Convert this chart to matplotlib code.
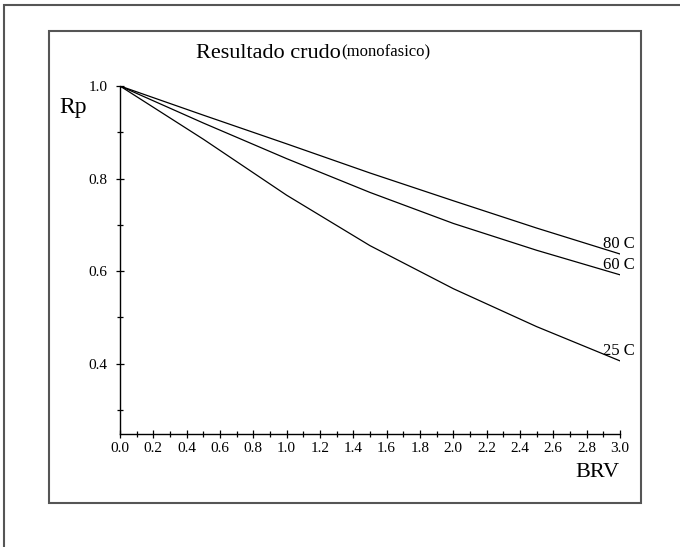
import numpy as np
from matplotlib import pyplot as plt
from matplotlib.patches import Rectangle
from matplotlib.ticker import MultipleLocator

plt.rcParams['font.family'] = ['Liberation Serif', 'DejaVu Serif']

brv = [0.0, 0.5, 1.0, 1.5, 2.0, 2.5, 3.0]
rp_80 = [1.0, 0.937, 0.875, 0.812, 0.752, 0.693, 0.637]
rp_60 = [1.0, 0.920, 0.843, 0.770, 0.703, 0.645, 0.592]
rp_25 = [1.0, 0.885, 0.764, 0.655, 0.562, 0.480, 0.406]
curve_labels = ['80 C', '60 C', '25 C']

W, H = 680, 547


def fx(px):
    return px / W


def fy(py):
    return 1 - py / H


def main():
    fig = plt.figure(figsize=(W / 100, H / 100), dpi=100)

    # frames drawn in pixel coordinates of the figure
    fig.add_artist(Rectangle((fx(4), fy(560)), fx(700), fy(5) - fy(560),
                             transform=fig.transFigure, fill=False,
                             edgecolor='#555555', linewidth=1.5))
    fig.add_artist(Rectangle((fx(49), fy(503)), fx(641) - fx(49), fy(31) - fy(503),
                             transform=fig.transFigure, fill=False,
                             edgecolor='#555555', linewidth=1.5))

    ax = fig.add_axes([fx(120), fy(434), fx(620) - fx(120), fy(86) - fy(434)])
    for series in (rp_80, rp_60, rp_25):
        ax.plot(np.array(brv), np.array(series), color='black', linewidth=0.9)

    ax.set_xlim(0, 3.0)
    ax.set_ylim(0.248, 1.0)
    ax.spines['top'].set_visible(False)
    ax.spines['right'].set_visible(False)
    ax.spines['left'].set_linewidth(1.0)
    ax.spines['bottom'].set_linewidth(1.0)
    ax.xaxis.set_major_locator(MultipleLocator(0.2))
    ax.xaxis.set_minor_locator(MultipleLocator(0.1))
    ax.yaxis.set_major_locator(MultipleLocator(0.2))
    ax.yaxis.set_minor_locator(MultipleLocator(0.1))
    ax.set_xticklabels(['%.1f' % v for v in ax.get_xticks()])
    ax.set_yticks([0.4, 0.6, 0.8, 1.0])
    ax.set_yticklabels(['0.4', '0.6', '0.8', '1.0'])
    ax.tick_params(which='major', direction='inout', length=6, width=0.9,
                   labelsize=11, pad=3)
    ax.tick_params(which='minor', direction='inout', length=4, width=0.9)
    ax.tick_params(axis='y', which='major', pad=6)
    ax.patch.set_alpha(0)

    for label, series in zip(curve_labels, (rp_80, rp_60, rp_25)):
        ax.text(2.9, series[-1] + 0.022, label, fontsize=12,
                ha='left', va='center')

    fig.text(fx(196), fy(58), 'Resultado crudo', fontsize=16, va='baseline')
    fig.text(fx(341), fy(56), '(monofasico)', fontsize=12, va='baseline')
    fig.text(fx(59), fy(113), 'Rp', fontsize=17, va='baseline')
    fig.text(fx(575), fy(477), 'BRV', fontsize=16, va='baseline')

    fig.savefig('out.png', dpi=100)


if __name__ == '__main__':
    main()
